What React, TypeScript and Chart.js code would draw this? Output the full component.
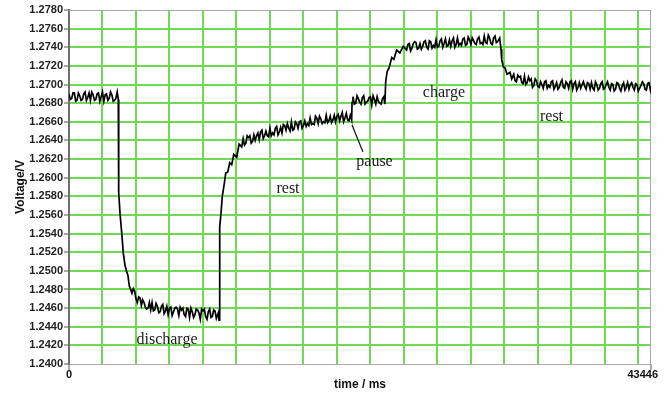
import React, { useEffect, useRef } from 'react';
import { Chart, registerables } from 'chart.js';

Chart.register(...registerables);

const X_MAX = 43446;
const Y_MIN = 1.24;
const Y_MAX = 1.278;
const Y_STEP = 0.002;

// vertical grid positions (ms)
const xGridTicks = [0, 2500, 5000, 7500, 10000, 12500, 15000, 17500, 20000, 22500, 25000, 27500, 30000, 32500, 35000, 37500, 40000, 42500, 43446];
const xTickLabels = ['0', '43446'];

// measured trace: time (ms)
const timesMs = [
  // initial rest
  0, 100, 200, 300, 400, 500, 600, 700, 800, 900,
  1000, 1100, 1200, 1300, 1400, 1500, 1600, 1700, 1800, 1900,
  2000, 2100, 2200, 2300, 2400, 2500, 2600, 2700, 2800, 2900,
  3000, 3100, 3200, 3300, 3400, 3500, 3600, 3680,
  // discharge onset
  3710, 3807, 3934, 4053, 4180, 4307,
  // discharge
  4400, 4500, 4600, 4700, 4800, 4900, 5000, 5100, 5200, 5300,
  5400, 5500, 5600, 5700, 5800, 5900, 6000, 6100, 6200, 6300,
  6400, 6500, 6600, 6700, 6800, 6900, 7000, 7100, 7200, 7300,
  7400, 7500, 7600, 7700, 7800, 7900, 8000, 8100, 8200, 8300,
  8400, 8500, 8600, 8700, 8800, 8900, 9000, 9100, 9200, 9300,
  9400, 9500, 9600, 9700, 9800, 9900, 10000, 10100, 10200, 10300,
  10400, 10500, 10600, 10700, 10800, 10900, 11000, 11150, 11200,
  // relaxation
  11250, 11347, 11444, 11593, 11700, 11847, 12000, 12146, 12300, 12519, 12700, 12892,
  // rest
  13000, 13100, 13200, 13300, 13400, 13500, 13600, 13700, 13800, 13900,
  14000, 14100, 14200, 14300, 14400, 14500, 14600, 14700, 14800, 14900,
  15000, 15100, 15200, 15300, 15400, 15500, 15600, 15700, 15800, 15900,
  16000, 16100, 16200, 16300, 16400, 16500, 16600, 16700, 16800, 16900,
  17000, 17100, 17200, 17300, 17400, 17500, 17600, 17700, 17800, 17900,
  18000, 18100, 18200, 18300, 18400, 18500, 18600, 18700, 18800, 18900,
  19000, 19100, 19200, 19300, 19400, 19500, 19600, 19700, 19800, 19900,
  20000, 20100, 20200, 20300, 20400, 20500, 20600, 20700, 20800, 20900,
  21000, 21100,
  // pause
  21130,
  21200, 21300, 21400, 21500, 21600, 21700, 21800, 21900, 22000, 22100,
  22200, 22300, 22400, 22500, 22600, 22700, 22800, 22900, 23000, 23100,
  23200, 23300, 23400, 23500, 23580,
  // charge
  23642, 23750, 23900, 24090, 24250, 24463, 24700, 24956,
  25200, 25300, 25400, 25500, 25600, 25700, 25800, 25900, 26000, 26100,
  26200, 26300, 26400, 26500, 26600, 26700, 26800, 26900, 27000, 27100,
  27200, 27300, 27400, 27500, 27600, 27700, 27800, 27900, 28000, 28100,
  28200, 28300, 28400, 28500, 28600, 28700, 28800, 28900, 29000, 29100,
  29200, 29300, 29400, 29500, 29600, 29700, 29800, 29900, 30000, 30100,
  30200, 30300, 30400, 30500, 30600, 30700, 30800, 30900, 31000, 31100,
  31200, 31300, 31400, 31500, 31600, 31700, 31800, 31900, 32000, 32150,
  // rest
  32249, 32301, 32420, 32548, 32700, 32921, 33050,
  33200, 33300, 33400, 33500, 33600, 33700, 33800, 33900, 34000, 34100,
  34200, 34300, 34400, 34500, 34600, 34700, 34800, 34900, 35000, 35100,
  35200, 35300, 35400, 35500, 35600, 35700, 35800, 35900, 36000, 36100,
  36200, 36300, 36400, 36500, 36600, 36700, 36800, 36900, 37000, 37100,
  37200, 37300, 37400, 37500, 37600, 37700, 37800, 37900, 38000, 38100,
  38200, 38300, 38400, 38500, 38600, 38700, 38800, 38900, 39000, 39100,
  39200, 39300, 39400, 39500, 39600, 39700, 39800, 39900, 40000, 40100,
  40200, 40300, 40400, 40500, 40600, 40700, 40800, 40900, 41000, 41100,
  41200, 41300, 41400, 41500, 41600, 41700, 41800, 41900, 42000, 42100,
  42200, 42300, 42400, 42500, 42600, 42700, 42800, 42900, 43000, 43100,
  43200, 43300, 43400, 43446,
];

// measured trace: voltage (V)
const voltage = [
  // initial rest
  1.2690, 1.2684, 1.2685, 1.2691, 1.2691, 1.2682, 1.2683, 1.2691, 1.2688, 1.2683,
  1.2684, 1.2690, 1.2692, 1.2683, 1.2686, 1.2691, 1.2683, 1.2692, 1.2689, 1.2683,
  1.2684, 1.2690, 1.2691, 1.2682, 1.2687, 1.2692, 1.2682, 1.2689, 1.2690, 1.2683,
  1.2685, 1.2692, 1.2689, 1.2682, 1.2683, 1.2685, 1.2692, 1.2684,
  // discharge onset
  1.2584, 1.2562, 1.2541, 1.2519, 1.2506, 1.2499,
  // discharge
  1.2495, 1.2484, 1.2480, 1.2476, 1.2481, 1.2478, 1.2470, 1.2466, 1.2472, 1.2471,
  1.2463, 1.2469, 1.2466, 1.2461, 1.2459, 1.2460, 1.2466, 1.2458, 1.2466, 1.2457,
  1.2458, 1.2465, 1.2462, 1.2455, 1.2456, 1.2462, 1.2464, 1.2454, 1.2457, 1.2462,
  1.2453, 1.2460, 1.2461, 1.2452, 1.2456, 1.2460, 1.2461, 1.2459, 1.2452, 1.2461,
  1.2458, 1.2460, 1.2453, 1.2451, 1.2460, 1.2459, 1.2450, 1.2460, 1.2456, 1.2450,
  1.2453, 1.2459, 1.2458, 1.2455, 1.2448, 1.2459, 1.2457, 1.2459, 1.2451, 1.2448,
  1.2456, 1.2459, 1.2450, 1.2451, 1.2458, 1.2457, 1.2449, 1.2455, 1.2447,
  // relaxation
  1.2547, 1.2562, 1.2580, 1.2594, 1.2605, 1.2606, 1.2616, 1.2614, 1.2625, 1.2622, 1.2636, 1.2633,
  // rest
  1.2642, 1.2635, 1.2637, 1.2645, 1.2643, 1.2645, 1.2637, 1.2639, 1.2646, 1.2640,
  1.2645, 1.2648, 1.2641, 1.2649, 1.2651, 1.2642, 1.2645, 1.2650, 1.2645, 1.2644,
  1.2653, 1.2645, 1.2648, 1.2646, 1.2653, 1.2655, 1.2646, 1.2649, 1.2654, 1.2648,
  1.2657, 1.2656, 1.2651, 1.2658, 1.2653, 1.2650, 1.2660, 1.2651, 1.2652, 1.2660,
  1.2658, 1.2653, 1.2660, 1.2661, 1.2653, 1.2656, 1.2661, 1.2655, 1.2658, 1.2656,
  1.2664, 1.2657, 1.2658, 1.2657, 1.2666, 1.2664, 1.2658, 1.2666, 1.2663, 1.2658,
  1.2660, 1.2659, 1.2667, 1.2659, 1.2661, 1.2666, 1.2659, 1.2662, 1.2667, 1.2660,
  1.2666, 1.2668, 1.2661, 1.2666, 1.2670, 1.2660, 1.2664, 1.2669, 1.2662, 1.2661,
  1.2667, 1.2662,
  // pause
  1.2681,
  1.2687, 1.2679, 1.2680, 1.2688, 1.2685, 1.2681, 1.2679, 1.2686, 1.2688, 1.2679,
  1.2681, 1.2682, 1.2686, 1.2687, 1.2678, 1.2688, 1.2684, 1.2679, 1.2687, 1.2682,
  1.2680, 1.2679, 1.2685, 1.2687, 1.2679,
  // charge
  1.2703, 1.2714, 1.2718, 1.2729, 1.2727, 1.2737, 1.2734, 1.2741,
  1.2737, 1.2743, 1.2744, 1.2736, 1.2739, 1.2744, 1.2746, 1.2745, 1.2738, 1.2739,
  1.2744, 1.2738, 1.2741, 1.2746, 1.2747, 1.2740, 1.2738, 1.2747, 1.2746, 1.2739,
  1.2742, 1.2740, 1.2748, 1.2740, 1.2741, 1.2747, 1.2749, 1.2740, 1.2744, 1.2749,
  1.2741, 1.2742, 1.2748, 1.2741, 1.2747, 1.2750, 1.2740, 1.2743, 1.2750, 1.2742,
  1.2744, 1.2742, 1.2749, 1.2750, 1.2742, 1.2743, 1.2751, 1.2748, 1.2743, 1.2750,
  1.2747, 1.2744, 1.2743, 1.2749, 1.2751, 1.2744, 1.2745, 1.2743, 1.2752, 1.2745,
  1.2744, 1.2753, 1.2750, 1.2744, 1.2743, 1.2750, 1.2752, 1.2745, 1.2746, 1.2750,
  // rest
  1.2738, 1.2727, 1.2719, 1.2718, 1.2711, 1.2713, 1.2706,
  1.2711, 1.2704, 1.2703, 1.2710, 1.2708, 1.2709, 1.2702, 1.2701, 1.2709, 1.2700,
  1.2702, 1.2708, 1.2704, 1.2706, 1.2697, 1.2699, 1.2706, 1.2704, 1.2698, 1.2697,
  1.2703, 1.2700, 1.2696, 1.2703, 1.2704, 1.2696, 1.2699, 1.2697, 1.2703, 1.2704,
  1.2695, 1.2698, 1.2702, 1.2695, 1.2697, 1.2702, 1.2705, 1.2697, 1.2696, 1.2703,
  1.2701, 1.2696, 1.2703, 1.2704, 1.2695, 1.2701, 1.2703, 1.2694, 1.2697, 1.2702,
  1.2696, 1.2700, 1.2703, 1.2698, 1.2695, 1.2702, 1.2701, 1.2695, 1.2702, 1.2696,
  1.2694, 1.2703, 1.2700, 1.2694, 1.2696, 1.2701, 1.2703, 1.2695, 1.2696, 1.2700,
  1.2703, 1.2697, 1.2694, 1.2701, 1.2700, 1.2693, 1.2695, 1.2702, 1.2701, 1.2696,
  1.2693, 1.2699, 1.2702, 1.2694, 1.2697, 1.2702, 1.2695, 1.2700, 1.2702, 1.2697,
  1.2694, 1.2701, 1.2700, 1.2693, 1.2696, 1.2699, 1.2703, 1.2701, 1.2695, 1.2694,
  1.2701, 1.2702, 1.2694, 1.2698,
];

// phase annotations (anchored in data coordinates)
const labelTexts = ['discharge', 'rest', 'pause', 'charge', 'rest'];
const labelTimes = [7316, 16348, 22806, 27994, 36019];
const labelVolts = [1.24215, 1.25836, 1.26126, 1.26866, 1.26609];
const pointerTimes = [21126, 21947];
const pointerVolts = [1.26566, 1.26276];

const SANS = '"Liberation Sans", Arial, sans-serif';
const SERIF = '"Liberation Serif", "Times New Roman", serif';
const GRID_GREEN = '#6fdb52';
const CLEAR = 'rgba(0,0,0,0)';

export default function App() {
  const canvasRef = useRef<HTMLCanvasElement>(null);

  useEffect(() => {
    document.body.style.margin = '0';
    const canvas = canvasRef.current;
    if (!canvas) return;

    const n = Math.min(timesMs.length, voltage.length);
    const points = [];
    for (let i = 0; i < n; i++) points.push({ x: timesMs[i], y: voltage[i] });

    const annotate = {
      id: 'annotate',
      beforeDatasetsDraw(chart: any) {
        const { ctx, chartArea: a } = chart;
        ctx.save();
        ctx.strokeStyle = '#a8a8a8';
        ctx.lineWidth = 1;
        ctx.beginPath();
        ctx.moveTo(a.left, Math.round(a.top) + 0.5);
        ctx.lineTo(a.right, Math.round(a.top) + 0.5);
        ctx.moveTo(Math.round(a.right) - 0.5, a.top);
        ctx.lineTo(Math.round(a.right) - 0.5, a.bottom);
        ctx.stroke();
        ctx.restore();
      },
      afterDraw(chart: any) {
        const { ctx } = chart;
        const x = chart.scales.x;
        const y = chart.scales.y;
        ctx.save();
        ctx.fillStyle = '#1c1c1c';
        ctx.font = '16px ' + SERIF;
        ctx.textAlign = 'center';
        ctx.textBaseline = 'alphabetic';
        labelTexts.forEach((t, i) => {
          ctx.fillText(t, x.getPixelForValue(labelTimes[i]), y.getPixelForValue(labelVolts[i]));
        });
        ctx.strokeStyle = '#111';
        ctx.lineWidth = 1.2;
        ctx.beginPath();
        ctx.moveTo(x.getPixelForValue(pointerTimes[0]), y.getPixelForValue(pointerVolts[0]));
        ctx.lineTo(x.getPixelForValue(pointerTimes[1]), y.getPixelForValue(pointerVolts[1]));
        ctx.stroke();

        ctx.fillStyle = '#111';
        ctx.font = 'bold 11px ' + SANS;
        ctx.textBaseline = 'middle';
        const ty = x.top + 10.5;
        ctx.textAlign = 'center';
        ctx.fillText(xTickLabels[0], x.getPixelForValue(0), ty);
        ctx.textAlign = 'right';
        ctx.fillText(xTickLabels[1], x.getPixelForValue(X_MAX) + 7, ty);
        ctx.restore();
      },
    };

    const isEdgeX = (c: any) => c.tick && (c.tick.value === 0 || c.tick.value === X_MAX);
    const isEdgeY = (c: any) =>
      c.tick && (Math.abs(c.tick.value - Y_MIN) < 1e-9 || Math.abs(c.tick.value - Y_MAX) < 1e-9);

    const chart = new Chart(canvas, {
      type: 'line',
      data: {
        datasets: [
          {
            data: points,
            borderColor: '#000',
            borderWidth: 1.7,
            borderJoinStyle: 'miter',
            pointRadius: 0,
            tension: 0,
            fill: false,
          },
        ],
      },
      options: {
        responsive: false,
        animation: false,
        events: [],
        layout: { padding: { top: 10, right: 16, left: 0, bottom: 0 } },
        plugins: { legend: { display: false }, tooltip: { enabled: false } },
        scales: {
          x: {
            type: 'linear',
            min: 0,
            max: X_MAX,
            afterBuildTicks: (s: any) => {
              s.ticks = xGridTicks.map((v) => ({ value: v }));
            },
            afterFit: (s: any) => {
              s.height = 35;
            },
            ticks: { display: false },
            grid: {
              color: (c: any) => (isEdgeX(c) ? CLEAR : GRID_GREEN),
              lineWidth: 2,
              tickLength: 6,
              tickWidth: 1,
              tickColor: (c: any) => (isEdgeX(c) ? '#555' : CLEAR),
            },
            border: { color: '#ababab', width: 1 },
            title: {
              display: true,
              text: 'time / ms',
              color: '#111',
              font: { family: SANS, size: 12, weight: 'bold' },
              padding: { top: 0, bottom: 7 },
            },
          },
          y: {
            type: 'linear',
            min: Y_MIN,
            max: Y_MAX,
            afterFit: (s: any) => {
              s.width = 69;
            },
            ticks: {
              stepSize: Y_STEP,
              padding: 1,
              color: '#222',
              font: { family: SANS, size: 11, weight: 'bold' },
              callback: (v: any) => Number(v).toFixed(4),
            },
            grid: {
              color: (c: any) => (isEdgeY(c) ? CLEAR : GRID_GREEN),
              lineWidth: 2,
              tickLength: 5,
              tickWidth: 1,
              tickColor: '#555',
            },
            border: { color: '#707070', width: 2 },
            title: {
              display: true,
              text: 'Voltage/V',
              color: '#111',
              font: { family: SANS, size: 12, weight: 'bold' },
              padding: { top: 13, bottom: 0 },
            },
          },
        },
      },
      plugins: [annotate],
    } as any);

    return () => chart.destroy();
  }, []);

  return (
    <div style={{ position: 'absolute', left: 0, top: 0, width: 667, height: 399, background: '#fff' }}>
      <canvas ref={canvasRef} width={667} height={399} />
    </div>
  );
}
